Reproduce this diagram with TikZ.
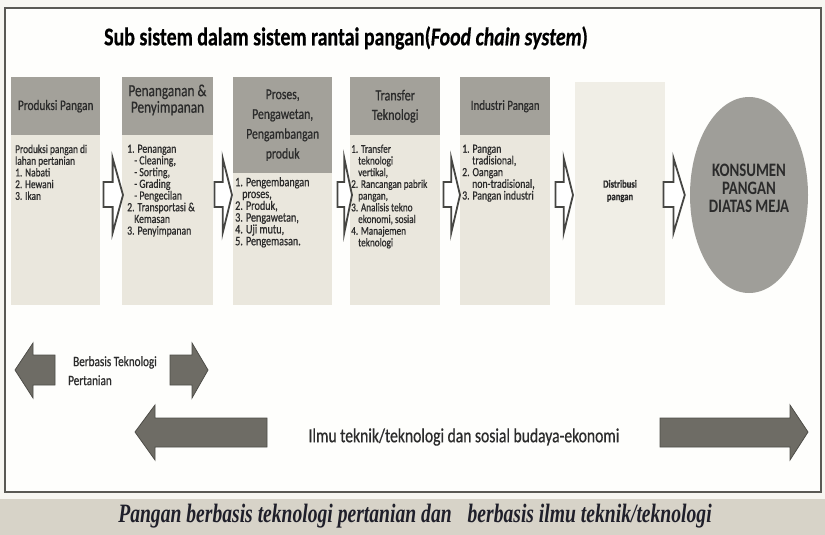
\documentclass[tikz,border=0pt]{standalone}
\usepackage{fontspec}
\setmainfont{Carlito}[FakeStretch=0.78]
\newfontfamily\heavyfont{Carlito}[FakeStretch=0.78, FakeBold=0.6]
\newfontfamily\titlefont{Carlito}[FakeStretch=0.78, FakeBold=0.5]
\newfontfamily\capfont{Liberation Serif}[FakeStretch=0.74]
\usetikzlibrary{calc,shapes.geometric}
\definecolor{pagebg}{HTML}{F7F6F1}
\definecolor{framein}{HTML}{FEFEFC}
\definecolor{framecol}{HTML}{5A5954}
\definecolor{hdrfill}{HTML}{A3A19A}
\definecolor{bodyfill}{HTML}{EAE7DD}
\definecolor{distfill}{HTML}{F0EEE6}
\definecolor{txtdark}{HTML}{2B2B2B}
\definecolor{ellfill}{HTML}{9F9E99}
\definecolor{arrline}{HTML}{464643}
\definecolor{solidfill}{HTML}{6E6C65}
\definecolor{solidline}{HTML}{4E4D48}
\definecolor{bandfill}{HTML}{D7D3C8}
\definecolor{captxt}{HTML}{1F1F2A}
\tikzset{
  hdrbox/.style={fill=hdrfill, anchor=north west, inner sep=0pt, align=center, text=txtdark},
  bodybox/.style={fill=bodyfill, anchor=north west, inner sep=0pt},
  bodytxt/.style={anchor=north west, inner sep=0pt, align=left, text=txtdark, font=\heavyfont\fontsize{11}{11.7}\selectfont},
  hollowarr/.style={draw=arrline, fill=white, line width=1.8pt, line join=miter},
  solidarr/.style={draw=solidline, fill=solidfill, line width=0.8pt},
}
% #1 from node, #2 to node, #3 start gap, #4 end gap
\newcommand\flowarrow[4]{%
  \coordinate (fs) at ($(#1.east)+(#3,0)$);
  \coordinate (fe) at ($(#2.west)+(-#4,0)$);
  \coordinate (fm) at ($(fs)!0.47!(fe)$);
  \draw[hollowarr] (fs|-0,182) -- (fm|-0,182) -- (fm|-0,158) -- (fe|-0,195)
     -- (fm|-0,233) -- (fm|-0,207) -- (fs|-0,207) -- cycle;}
\newcommand\ind{\hspace*{7pt}}
\begin{document}
\begin{tikzpicture}[x=1pt,y=-1pt]
\useasboundingbox (0,0) rectangle (825,535);
\fill[pagebg] (0,0) rectangle (825,535);
\fill[bandfill] (0,499) rectangle (825,535);
\draw[framecol, line width=1.4pt, fill=framein] (5,8) rectangle (821,492);

\node[font=\titlefont\fontsize{25.5}{28}\selectfont\bfseries, text=black] (title) at (346,38)
  {Sub sistem dalam sistem rantai pangan(\textit{Food chain system})};

% column 1
\node[hdrbox, minimum width=89, minimum height=58, font=\heavyfont\fontsize{14.5}{16}\selectfont] (h1) at (11,77) {Produksi Pangan};
\node[bodybox, minimum width=89, minimum height=170] (b1) at (11,135) {};
\node[bodytxt, font=\heavyfont\fontsize{12}{11.7}\selectfont] (t1) at (15,144.5) {Produksi pangan di\\lahan pertanian\\1. Nabati\\2. Hewani\\3. Ikan};

% column 2
\node[hdrbox, minimum width=91, minimum height=58] (h2) at (122,77) {};
\node[font=\heavyfont\fontsize{17}{16.5}\selectfont, text=txtdark, align=center] (h2t) at (167.5,100) {Penanganan \&\\Penyimpanan};
\node[bodybox, minimum width=91, minimum height=170] (b2) at (122,135) {};
\node[bodytxt, font=\heavyfont\fontsize{12.5}{11.7}\selectfont] (t2) at (127,144.5) {1. Penangan\\\ind- Cleaning,\\\ind- Sorting,\\\ind- Grading\\\ind- Pengecilan\\2. Transportasi \&\\\ind Kemasan\\3. Penyimpanan};

% column 3
\node[hdrbox, minimum width=99, minimum height=96, font=\heavyfont\fontsize{15}{19.8}\selectfont] (h3) at (233,77) {Proses,\\Pengawetan,\\Pengambangan\\produk};
\node[bodybox, minimum width=99, minimum height=132] (b3) at (233,173) {};
\node[bodytxt, font=\heavyfont\fontsize{13}{11.8}\selectfont] (t3) at (235,177) {1. Pengembangan\\\ind proses,\\2. Produk,\\3. Pengawetan,\\4. Uji mutu,\\5. Pengemasan.};

% column 4
\node[hdrbox, minimum width=90, minimum height=58, font=\heavyfont\fontsize{15.5}{19.5}\selectfont] (h4) at (350,77) {Transfer\\Teknologi};
\node[bodybox, minimum width=90, minimum height=170] (b4) at (350,135) {};
\node[bodytxt, font=\heavyfont\fontsize{11.8}{11.7}\selectfont] (t4) at (351,144.5) {1. Transfer\\\ind teknologi\\\ind vertikal,\\2. Rancangan pabrik\\\ind pangan,\\3. Analisis tekno\\\ind ekonomi, sosial\\4. Manajemen\\\ind teknologi};

% column 5
\node[hdrbox, minimum width=90, minimum height=58, font=\heavyfont\fontsize{14}{16}\selectfont] (h5) at (460,77) {Industri Pangan};
\node[bodybox, minimum width=90, minimum height=170] (b5) at (460,135) {};
\node[bodytxt, font=\heavyfont\fontsize{12.5}{11.7}\selectfont] (t5) at (462,144.5) {1. Pangan\\\hspace*{10pt}tradisional,\\2. Oangan\\\hspace*{10pt}non-tradisional,\\3. Pangan industri};

% column 6
\node[bodybox, fill=distfill, minimum width=90, minimum height=223] (b6) at (575,82) {};
\node[font=\heavyfont\fontsize{11}{12.5}\selectfont\bfseries, text=txtdark, align=center] (t6) at (620,191) {Distribusi\\pangan};

% consumer
\node[ellipse, fill=ellfill, minimum width=118, minimum height=196, inner sep=0pt] (e7) at (749,195) {};
\node[font=\fontsize{19}{18}\selectfont\bfseries, text=txtdark, align=center] (k7) at (749,188) {KONSUMEN\\PANGAN\\DIATAS MEJA};

% flow arrows
\flowarrow{b1}{b2}{3}{-1}
\flowarrow{b2}{b3}{1}{1}
\flowarrow{b3}{b4}{5}{-2}
\flowarrow{b4}{b5}{3}{0}
\flowarrow{b5}{b6}{5}{2}
\flowarrow{b6}{e7}{-2}{5}

% small arrows
\draw[solidarr] (55,355) -- (33,355) -- (33,343) -- (15,370) -- (33,398) -- (33,385) -- (55,385) -- cycle;
\draw[solidarr] (170,355) -- (192,355) -- (192,343) -- (208,370) -- (192,398) -- (192,385) -- (170,385) -- cycle;
\node[anchor=north west, align=left, inner sep=0pt, font=\heavyfont\fontsize{14.3}{19}\selectfont, text=txtdark] (bt) at (68,356) {\hspace*{5pt}Berbasis Teknologi\\Pertanian};

% big arrows
\draw[solidarr] (267,418) -- (155,418) -- (155,405) -- (135,432) -- (155,460) -- (155,447) -- (267,447) -- cycle;
\draw[solidarr] (660,418) -- (790,418) -- (790,405) -- (808,432) -- (790,460) -- (790,447) -- (660,447) -- cycle;
\node[font=\heavyfont\fontsize{20}{22}\selectfont, text=txtdark] (ilmu) at (464,437) {Ilmu teknik/teknologi dan sosial budaya-ekonomi};

% caption
\node[font=\capfont\bfseries\itshape\fontsize{26.5}{28}\selectfont, text=captxt] (cap) at (415,516)
  {Pangan berbasis teknologi pertanian dan\hspace{0.6em}berbasis ilmu teknik/teknologi};
\end{tikzpicture}
\end{document}
